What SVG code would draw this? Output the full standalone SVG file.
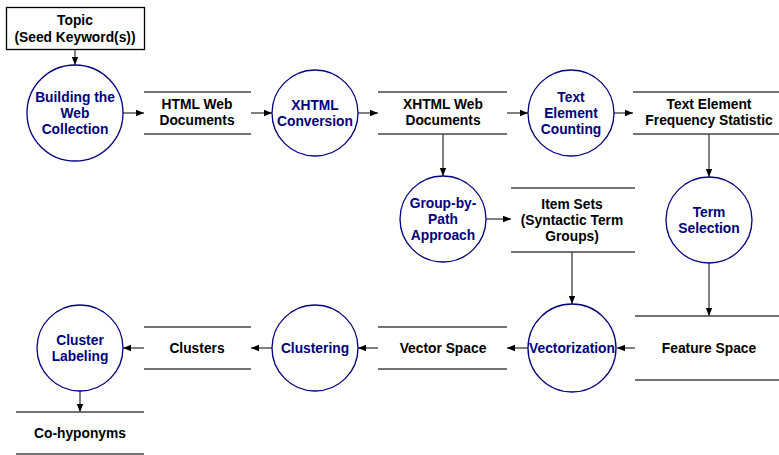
<svg xmlns="http://www.w3.org/2000/svg" width="779" height="455" viewBox="0 0 779 455">
<defs>
<marker id="ah" viewBox="0 0 10 10" refX="10" refY="5" markerWidth="8" markerHeight="8" markerUnits="userSpaceOnUse" orient="auto">
<path d="M0,1 L10,5 L0,9 z" fill="#000"/>
</marker>
</defs>
<style>
text{font-family:"Liberation Sans",Arial,sans-serif;font-weight:bold;font-size:13.8px;text-anchor:middle;dominant-baseline:central}
.p{fill:#000080}
.d{fill:#000}
circle{fill:#fff;stroke:#000080;stroke-width:1.3}
.ds line{stroke:#444;stroke-width:1.3}
.c line{stroke:#000;stroke-width:1;marker-end:url(#ah)}
</style>
<rect width="779" height="455" fill="#fff"/>
<g class="c" id="connectors">
<line x1="75" y1="49" x2="75" y2="65"/>
<line x1="123" y1="113" x2="144" y2="113"/>
<line x1="251" y1="113" x2="272" y2="113"/>
<line x1="358" y1="113" x2="378" y2="113"/>
<line x1="507" y1="113" x2="528" y2="113"/>
<line x1="614" y1="113" x2="633" y2="113"/>
<line x1="709" y1="134" x2="709" y2="177"/>
<line x1="709" y1="263" x2="709" y2="316"/>
<line x1="443" y1="134" x2="443" y2="176"/>
<line x1="486" y1="219" x2="511" y2="219"/>
<line x1="572" y1="252" x2="572" y2="304"/>
<line x1="635" y1="348" x2="617" y2="348"/>
<line x1="528" y1="348" x2="507" y2="348"/>
<line x1="378" y1="348" x2="358" y2="348"/>
<line x1="272" y1="348" x2="251" y2="348"/>
<line x1="144" y1="348" x2="123" y2="348"/>
<line x1="80" y1="391" x2="80" y2="412"/>
</g>
<g id="topic">
<rect x="6.5" y="7.5" width="138" height="42" fill="#fff" stroke="#000" stroke-width="1.3"/>
<text class="d" x="75" y="20">Topic</text>
<text class="d" x="75" y="37">(Seed Keyword(s))</text>
</g>
<g id="building">
<circle cx="75" cy="113" r="48"/>
<text class="p" x="75" y="97">Building the</text>
<text class="p" x="75" y="113">Web</text>
<text class="p" x="75" y="129">Collection</text>
</g>
<g id="html-docs" class="ds">
<line x1="144" y1="92" x2="251" y2="92"/>
<line x1="144" y1="134" x2="251" y2="134"/>
<text class="d" x="197" y="104">HTML Web</text>
<text class="d" x="197" y="120">Documents</text>
</g>
<g id="xhtml-conv">
<circle cx="315" cy="113" r="43"/>
<text class="p" x="315" y="105">XHTML</text>
<text class="p" x="315" y="121">Conversion</text>
</g>
<g id="xhtml-docs" class="ds">
<line x1="378" y1="92" x2="507" y2="92"/>
<line x1="378" y1="134" x2="507" y2="134"/>
<text class="d" x="443" y="104">XHTML Web</text>
<text class="d" x="443" y="120">Documents</text>
</g>
<g id="text-count">
<circle cx="571" cy="113" r="43"/>
<text class="p" x="571" y="97">Text</text>
<text class="p" x="571" y="113">Element</text>
<text class="p" x="571" y="129">Counting</text>
</g>
<g id="freq" class="ds">
<line x1="633" y1="92" x2="779" y2="92"/>
<line x1="633" y1="134" x2="779" y2="134"/>
<text class="d" x="709" y="104">Text Element</text>
<text class="d" x="709" y="120">Frequency Statistic</text>
</g>
<g id="term-sel">
<circle cx="709" cy="220" r="43"/>
<text class="p" x="709" y="212">Term</text>
<text class="p" x="709" y="228">Selection</text>
</g>
<g id="group-by-path">
<circle cx="443" cy="219" r="43"/>
<text class="p" x="443" y="203">Group-by-</text>
<text class="p" x="443" y="219">Path</text>
<text class="p" x="443" y="235">Approach</text>
</g>
<g id="item-sets" class="ds">
<line x1="511" y1="188" x2="635" y2="188"/>
<line x1="511" y1="252" x2="635" y2="252"/>
<text class="d" x="572" y="204">Item Sets</text>
<text class="d" x="572" y="220">(Syntactic Term</text>
<text class="d" x="572" y="236">Groups)</text>
</g>
<g id="feature-space" class="ds">
<line x1="635" y1="316" x2="779" y2="316"/>
<line x1="635" y1="380" x2="779" y2="380"/>
<text class="d" x="709" y="348">Feature Space</text>
</g>
<g id="vectorization">
<circle cx="572" cy="348" r="44"/>
<text class="p" x="572" y="348">Vectorization</text>
</g>
<g id="vector-space" class="ds">
<line x1="378" y1="327" x2="507" y2="327"/>
<line x1="378" y1="369" x2="507" y2="369"/>
<text class="d" x="443" y="348">Vector Space</text>
</g>
<g id="clustering">
<circle cx="315" cy="348" r="43"/>
<text class="p" x="315" y="348">Clustering</text>
</g>
<g id="clusters" class="ds">
<line x1="144" y1="327" x2="251" y2="327"/>
<line x1="144" y1="369" x2="251" y2="369"/>
<text class="d" x="197" y="348">Clusters</text>
</g>
<g id="cluster-label">
<circle cx="80" cy="348" r="43"/>
<text class="p" x="80" y="340">Cluster</text>
<text class="p" x="80" y="356">Labeling</text>
</g>
<g id="co-hyponyms" class="ds">
<line x1="16" y1="412" x2="144" y2="412"/>
<line x1="16" y1="454" x2="144" y2="454"/>
<text class="d" x="80" y="433">Co-hyponyms</text>
</g>
</svg>
